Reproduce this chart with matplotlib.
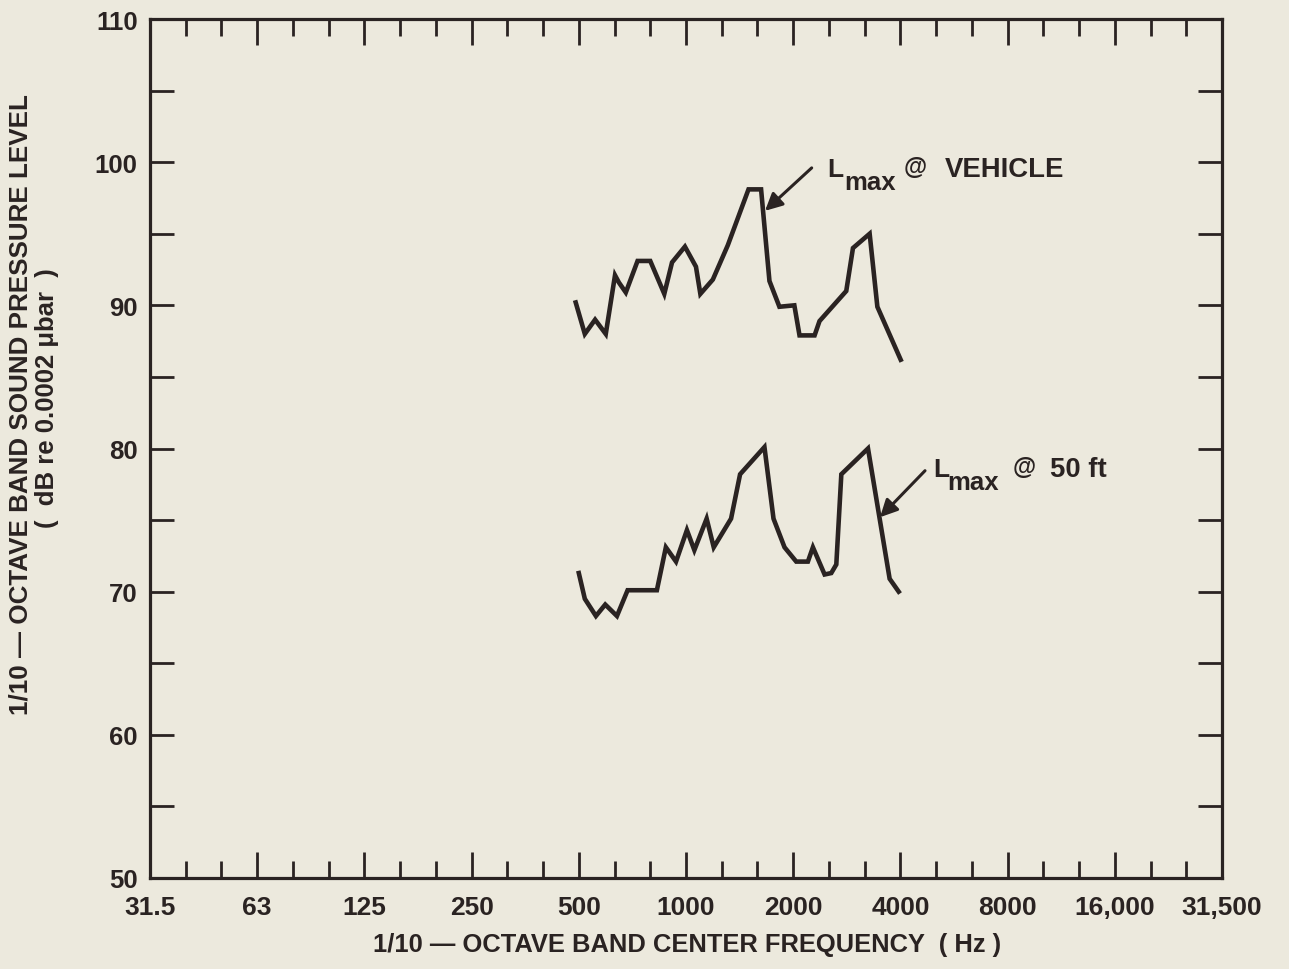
import numpy as np
import matplotlib.pyplot as plt
from matplotlib.ticker import FixedLocator, FixedFormatter, NullFormatter

plt.rcParams['font.family'] = ['Liberation Sans', 'DejaVu Sans']

# 1/10 octave band spectra (Hz, dB re 0.0002 ubar)
freq_vehicle = [494, 524, 560, 600, 637, 653, 683, 737, 800, 876, 921, 1001, 1075, 1106,
                1199, 1321, 1510, 1638, 1729, 1844, 2031, 2100, 2315, 2390, 2841, 2967,
                3305, 3474, 4040]
lmax_vehicle = [90.2, 88.0, 89.0, 88.0, 92.1, 91.6, 90.9, 93.1, 93.1, 90.8, 93.0, 94.1, 92.7,
                90.8, 91.8, 94.2, 98.1, 98.1, 91.7, 89.9, 90.0, 87.9, 87.9, 88.9, 91.0, 94.0,
                95.0, 89.9, 86.2]

freq_50ft = [504, 524, 563, 598, 645, 691, 714, 835, 885, 945, 1014, 1064, 1152, 1206, 1349,
             1430, 1674, 1775, 1906, 2056, 2217, 2290, 2470, 2579, 2664, 2752, 3270, 3761, 3988]
lmax_50ft = [71.3, 69.5, 68.3, 69.1, 68.3, 70.1, 70.1, 70.1, 73.1, 72.1, 74.3, 72.9, 75.1,
             73.1, 75.1, 78.2, 80.1, 75.1, 73.1, 72.1, 72.1, 73.1, 71.2, 71.3, 71.9, 78.2,
             80.0, 70.9, 70.0]

octave_labels = ['31.5', '63', '125', '250', '500', '1000', '2000', '4000', '8000',
                 '16,000', '31,500']
y_labels = ['50', '60', '70', '80', '90', '100', '110']

ink = '#2a2322'
paper = '#ece9dd'

fig = plt.figure(figsize=(12.89, 9.70), dpi=100, facecolor=paper)
ax = fig.add_axes([150/1289, 91/970, 1072/1289, 859/970])
ax.set_facecolor(paper)

ax.set_xscale('log', base=2)
f0 = 31.5
ax.set_xlim(f0, f0*2**10)
ax.set_ylim(50, 110)

ax.plot(freq_vehicle, lmax_vehicle, color=ink, lw=3.3, solid_joinstyle='miter')
ax.plot(freq_50ft, lmax_50ft, color=ink, lw=3.3, solid_joinstyle='miter')

# octave majors, third-octave minors
major = [f0*2**k for k in range(11)]
minor = [f0*2**(k/3) for k in range(31) if k % 3]
ax.xaxis.set_major_locator(FixedLocator(major))
ax.xaxis.set_major_formatter(FixedFormatter(octave_labels))
ax.xaxis.set_minor_locator(FixedLocator(minor))
ax.xaxis.set_minor_formatter(NullFormatter())

ax.yaxis.set_major_locator(FixedLocator(np.arange(50, 111, 10)))
ax.yaxis.set_major_formatter(FixedFormatter(y_labels))
ax.yaxis.set_minor_locator(FixedLocator(np.arange(55, 110, 10)))

ax.tick_params(axis='x', which='major', direction='in', top=True, bottom=True,
               length=18.7, width=2, color=ink, labelcolor=ink, labelsize=19, pad=12.5)
ax.tick_params(axis='x', which='minor', direction='in', top=True, bottom=True,
               length=12, width=2, color=ink)
ax.tick_params(axis='y', which='both', direction='in', left=True, right=True,
               length=17, width=2, color=ink, labelcolor=ink, labelsize=18.5, pad=9)
for lab in ax.get_xticklabels() + ax.get_yticklabels():
    lab.set_fontweight('bold')

for sp in ax.spines.values():
    sp.set_linewidth(2.3)
    sp.set_color(ink)

fig.text(687/1289, 1 - 945/970, '1/10 \u2014 OCTAVE BAND CENTER FREQUENCY  ( Hz )',
         ha='center', va='center', fontsize=18.4, fontweight='bold', color=ink)
fig.text(21/1289, 1 - 405/970, '1/10 \u2014 OCTAVE BAND SOUND PRESSURE LEVEL',
         ha='center', va='center', rotation=90, fontsize=18.7, fontweight='bold', color=ink)
fig.text(47/1289, 1 - 398/970, '(  dB re 0.0002 \u03bcbar  )',
         ha='center', va='center', rotation=90, fontsize=18.5, fontweight='bold', color=ink)


def curve_label(anchor, pieces):
    # pieces: (text, dx_px, dy_px, size) relative to the "L" baseline
    for txt, dx, dy, size in pieces:
        ax.annotate(txt, xy=anchor, xytext=(dx*0.72, dy*0.72), textcoords='offset points',
                    ha='left', va='baseline', fontsize=size, fontweight='bold', color=ink)


arrow = dict(arrowstyle='-|>', lw=2.2, color=ink, mutation_scale=26, shrinkA=0, shrinkB=0)
ax.annotate('', xy=(1680, 96.6), xytext=(2272, 99.6), arrowprops=arrow)
ax.annotate('', xy=(3534, 75.2), xytext=(4728, 78.45), arrowprops=arrow)

curve_label((2508, 99.03), [('L', 0, 0, 19), ('max', 17, -13, 18.5),
                            ('@', 77, 3, 17), ('VEHICLE', 118, 0, 19.8)])
curve_label((4977, 78.1), [('L', 0, 0, 19), ('max', 14, -13, 18.5),
                           ('@', 80, 3, 17), ('50 ft', 117, 0, 19.8)])

fig.savefig('out.png', dpi=100, facecolor=paper)
